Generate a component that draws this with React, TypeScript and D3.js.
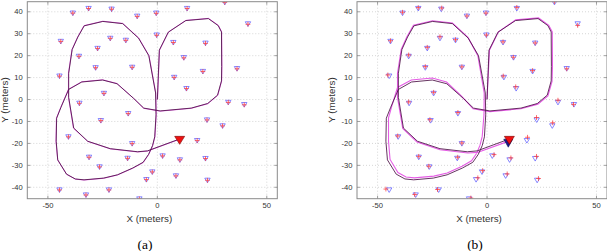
import React from "react";
import * as d3 from "d3";

type P = [number, number];

// True anchor (beacon) positions, metres
const anchors: P[] = [
  [-38.6, 39.3], [-31.4, 41.4], [-20.9, 41.1], [-9.2, 37.9], [-0.5, 39.3], [13.6, 41.4], [30.8, 44.2], [41.4, 34.4],
  [-44.1, 26.4], [-21.5, 27.8], [-14.4, 26.9], [-27.3, 23.2], [-0.3, 29.3], [7.3, 25.9], [22.0, 25.6], [-35.8, 19.6],
  [12.1, 19.0], [-28.2, 14.4], [-11.5, 14.6], [-44.7, 10.6], [7.7, 10.0], [20.8, 12.7], [36.4, 14.0], [13.3, 4.9],
  [-24.4, 2.7], [-35.6, -1.8], [32.4, -1.4], [39.7, -2.4], [-13.3, -6.5], [-25.8, -9.7], [22.7, -9.4], [29.8, -12.1],
  [-40.6, -17.1], [-11.5, -20.2], [18.2, -18.8], [-31.2, -26.4], [-13.6, -26.9], [2.4, -25.8], [10.3, -27.6], [22.0, -27.0],
  [-26.4, -30.8], [-2.3, -33.1], [8.5, -34.9], [-5.0, -36.6], [22.9, -36.9], [-44.7, -41.3], [-32.6, -43.6], [-22.1, -41.3],
  [-8.2, -45.4],
];

// Estimated anchor positions, panel (a)
const estAnchorsA: P[] = [
  [-38.6, 39.4], [-31.4, 41.5], [-20.9, 41.2], [-9.2, 37.9], [-0.5, 39.3], [13.6, 41.5], [30.8, 44.3], [41.4, 34.3],
  [-44.1, 26.5], [-21.5, 27.9], [-14.4, 27.0], [-27.3, 23.3], [-0.3, 29.3], [7.3, 26.0], [22.0, 25.6], [-35.8, 19.7],
  [12.1, 19.0], [-28.2, 14.5], [-11.5, 14.7], [-44.7, 10.7], [7.7, 10.1], [20.8, 12.8], [36.4, 14.0], [13.3, 5.0],
  [-24.4, 2.8], [-35.6, -1.7], [32.4, -1.3], [39.7, -2.4], [-13.3, -6.4], [-25.8, -9.6], [22.7, -9.3], [29.8, -12.0],
  [-40.6, -17.0], [-11.5, -20.1], [18.2, -18.7], [-31.2, -26.3], [-13.6, -26.8], [2.4, -25.7], [10.3, -27.5], [22.0, -26.9],
  [-26.4, -30.7], [-2.3, -33.0], [8.5, -34.8], [-5.0, -36.5], [22.9, -36.8], [-44.7, -41.2], [-32.6, -43.5], [-22.1, -41.2],
  [-8.2, -45.3],
];

// Estimated anchor positions, panel (b)
const estAnchorsB: P[] = [
  [-38.6, 39.8], [-31.4, 41.9], [-20.7, 41.7], [-9.2, 38.1], [-0.5, 39.4], [13.6, 42.0], [30.8, 44.6], [41.4, 33.8],
  [-44.1, 26.8], [-21.5, 28.6], [-14.4, 27.3], [-27.3, 23.8], [-0.3, 29.4], [7.3, 26.3], [22.0, 25.8], [-35.8, 20.3],
  [12.0, 19.3], [-28.2, 15.0], [-11.5, 14.9], [-45.3, 11.2], [7.4, 10.7], [20.8, 13.2], [36.4, 14.0], [13.1, 5.8],
  [-24.4, 3.3], [-35.8, -1.1], [32.4, -0.3], [39.5, -2.2], [-13.3, -5.9], [-26.1, -9.2], [22.6, -8.2], [30.0, -10.6],
  [-40.8, -16.6], [-11.5, -19.8], [18.5, -17.2], [-31.2, -25.9], [-13.4, -26.3], [3.2, -25.1], [10.9, -26.6], [22.6, -25.9],
  [-26.6, -30.4], [-2.0, -32.4], [9.2, -33.9], [-4.2, -35.7], [23.5, -36.0], [-46.2, -40.8], [-33.0, -43.3], [-22.6, -41.0],
  [-7.4, -44.9],
];

// True trajectory
const truePath: P[] = [
  [0, 0], [0.9, 22.5], [5, 30.7], [13, 36], [23.3, 36.9], [27.8, 33.7], [29.3, 30.8], [29.4, 15], [29.3, 8.5], [27.5, 2],
  [23, -1.8], [15.5, -3.9], [1.3, -5.2], [-6.2, -3.9], [-10.8, 0.5], [-12.5, 2], [-18.4, 7.2], [-25, 8.9], [-34.5, 8],
  [-40.5, 4.6], [-44, -3.5], [-46, -8.5], [-46.2, -19], [-45.5, -27.5], [-41.5, -34], [-37.5, -36.2], [-33.5, -36.6],
  [-24.5, -35.8], [-18.2, -34.3], [-11.2, -31.2], [-6.5, -28.6], [-4, -25], [-2.2, -21], [-1.2, -17], [-0.6, -7],
  [-0.8, 3], [-3.9, 20], [-8.6, 28], [-15.8, 34.6], [-24.9, 35.6], [-33.4, 33.6], [-36.3, 28.5], [-38.9, 22.8],
  [-40.5, 12], [-40.5, 1], [-38.2, -13], [-31.8, -19], [-21.5, -22.4], [-9, -23.8], [-4.5, -23.4], [9.3, -18.3],
];

// Estimated trajectory, panel (a)
const estPathA: P[] = [
  [0.1, 0], [1.0, 22.5], [5.1, 30.8], [13.1, 36.1], [23.4, 37.0], [27.9, 33.8], [29.4, 30.8], [29.5, 15], [29.4, 8.5], [27.6, 1.9],
  [23.1, -1.9], [15.5, -4.0], [1.3, -5.3], [-6.3, -4.0], [-10.9, 0.6], [-12.6, 2.1], [-18.4, 7.3], [-25, 9.0], [-34.5, 8.1],
  [-40.6, 4.7], [-44.1, -3.5], [-46.1, -8.5], [-46.3, -19], [-45.5, -27.6], [-41.4, -34.1], [-37.4, -36.3], [-33.4, -36.7],
  [-24.5, -35.9], [-18.2, -34.4], [-11.2, -31.3], [-6.4, -28.7], [-3.9, -25], [-2.1, -21], [-1.1, -17], [-0.5, -7],
  [-0.7, 3], [-3.8, 20], [-8.5, 28.1], [-15.8, 34.7], [-24.9, 35.7], [-33.5, 33.7], [-36.4, 28.5], [-39.0, 22.8],
  [-40.6, 12], [-40.6, 1], [-38.3, -13.1], [-31.8, -19.1], [-21.5, -22.5], [-9, -23.9], [-4.5, -23.5], [9.4, -18.4],
];

// Estimated trajectory, panel (b)
const estPathB: P[] = [
  [0, 0.2], [1.1, 22.5], [5.2, 30.9], [13.1, 36.3], [23.5, 37.2], [28.2, 33.8], [29.8, 30.8], [29.9, 15], [29.7, 8.3], [27.8, 1.7],
  [23.2, -2.1], [15.5, -4.2], [1.3, -5.5], [-6.4, -4.2], [-11, 0.9], [-12.7, 2.6], [-18.5, 8], [-25, 9.8], [-34.6, 8.9],
  [-40.9, 5.5], [-43.5, -3], [-45, -8.3], [-45, -19], [-44.3, -27.3], [-40.7, -33.3], [-37, -35.3], [-33.2, -35.7],
  [-24.3, -34.9], [-18.2, -33.5], [-11.4, -30.4], [-7.1, -27.9], [-4.8, -24.6], [-3.2, -20.8], [-2.2, -16.8], [-1.4, -7],
  [-1.3, 3], [-4.2, 20], [-8.7, 28.3], [-15.8, 34.9], [-24.9, 35.9], [-33.6, 33.9], [-36.6, 28.6], [-39.2, 22.8],
  [-40.9, 12], [-40.9, 1], [-38.5, -13.2], [-32, -19.4], [-21.5, -22.9], [-8.8, -24.4], [-4.4, -24.1], [9, -19.3],
];

const trueEnd: P = [10.2, -18.6];
const estEndB: P = [9.7, -19.9];

const xTicks = [-50, 0, 50];
const yTicks = [-40, -30, -20, -10, 0, 10, 20, 30, 40];
const captions = ["(a)", "(b)"];

const X_DOMAIN: [number, number] = [-59.4, 54.8];
const Y_DOMAIN: [number, number] = [-45.2, 44.6];
const TOP = 1.7;
const BOTTOM = 198.7;
const W = 250;

const SANS = "Liberation Sans, Arial, Helvetica, sans-serif";
const SERIF = "Times New Roman, Liberation Serif, DejaVu Serif, serif";

function Panel({ left, estAnchors, estPath, estEnd, caption, yLabelX, captionX, estWidth }: {
  left: number; estAnchors: P[]; estPath: P[]; estEnd: P | null; caption: string; yLabelX: number; captionX: number; estWidth: number;
}) {
  const x = d3.scaleLinear().domain(X_DOMAIN).range([left, left + W]);
  const y = d3.scaleLinear().domain(Y_DOMAIN).range([BOTTOM, TOP]);
  const line = d3.line<P>().x((d) => x(d[0])).y((d) => y(d[1]));
  const fmt = (v: number) => (v < 0 ? "-" + Math.abs(v) : String(v));
  const tri = (cx: number, cy: number, w: number, h: number) =>
    `M${cx - w / 2},${cy - h / 2}L${cx + w / 2},${cy - h / 2}L${cx},${cy + h / 2}Z`;
  const clipId = "clip" + caption.replace(/[()]/g, "");
  const sans = { fontFamily: SANS };
  return (
    <g>
      <defs>
        <clipPath id={clipId}>
          <rect x={left} y={TOP} width={W} height={BOTTOM - TOP} />
        </clipPath>
      </defs>
      {xTicks.map((t) => (
        <line key={"gx" + t} x1={x(t)} x2={x(t)} y1={TOP} y2={BOTTOM} stroke="#c4c4c4" strokeWidth={0.7} strokeDasharray="1,2" />
      ))}
      {yTicks.map((t) => (
        <line key={"gy" + t} x1={left} x2={left + W} y1={y(t)} y2={y(t)} stroke="#c4c4c4" strokeWidth={0.7} strokeDasharray="1,2" />
      ))}
      <g clipPath={`url(#${clipId})`}>
        {anchors.map((a, i) => (
          <path key={"a" + i} d={tri(x(a[0]), y(a[1]), 5.4, 4.6)} fill="none" stroke="#6060ff" strokeWidth={0.75} />
        ))}
        {estAnchors.map((a, i) => {
          const cx = x(a[0]);
          const cy = y(a[1]);
          return (
            <g key={"e" + i} stroke="#ff3a3a" strokeWidth={0.75}>
              <line x1={cx - 2.4} x2={cx + 2.4} y1={cy} y2={cy} />
              <line x1={cx} x2={cx} y1={cy - 2.4} y2={cy + 2.4} />
            </g>
          );
        })}
        <path d={line(estPath) || ""} fill="none" stroke="#e040e0" strokeWidth={estWidth} strokeOpacity={0.85} />
        <path d={line(truePath) || ""} fill="none" stroke="#4a0f45" strokeWidth={0.85} />
        {estEnd && (
          <path d={tri(x(estEnd[0]), y(estEnd[1]), 9, 8)} fill="#1a1a8c" stroke="#10105a" strokeWidth={0.6} />
        )}
        <path d={tri(x(trueEnd[0]), y(trueEnd[1]), 10, 8)} fill="#ee1111" stroke="#7a0000" strokeWidth={0.6} />
      </g>
      <rect x={left} y={TOP} width={W} height={BOTTOM - TOP} fill="none" stroke="#8a8a8a" strokeWidth={1} />
      {xTicks.map((t) => (
        <g key={"tx" + t} stroke="#8a8a8a" strokeWidth={0.8}>
          <line x1={x(t)} x2={x(t)} y1={BOTTOM} y2={BOTTOM - 3} />
          <line x1={x(t)} x2={x(t)} y1={TOP} y2={TOP + 3} />
        </g>
      ))}
      {yTicks.map((t) => (
        <g key={"ty" + t} stroke="#8a8a8a" strokeWidth={0.8}>
          <line x1={left} x2={left + 3} y1={y(t)} y2={y(t)} />
          <line x1={left + W} x2={left + W - 3} y1={y(t)} y2={y(t)} />
        </g>
      ))}
      {xTicks.map((t) => (
        <text key={"lx" + t} x={x(t)} y={207.8} textAnchor="middle" fontSize={7.6} fill="#333" style={sans}>
          {fmt(t)}
        </text>
      ))}
      {yTicks.map((t) => (
        <text key={"ly" + t} x={left - 4.5} y={y(t) + 2.7} textAnchor="end" fontSize={7.6} fill="#333" style={sans}>
          {fmt(t)}
        </text>
      ))}
      <text x={left + W / 2 - 3} y={221.5} textAnchor="middle" fontSize={9.8} fill="#333" style={sans}>
        X (meters)
      </text>
      <text
        transform={`translate(${yLabelX},${100}) rotate(-90)`}
        textAnchor="middle"
        dominantBaseline="central"
        fontSize={9.8}
        fill="#333"
        style={sans}
      >
        Y (meters)
      </text>
      <text x={captionX} y={248.5} textAnchor="middle" fontSize={13.5} fill="#000" style={{ fontFamily: SERIF }}>
        {caption}
      </text>
    </g>
  );
}

export default function App() {
  return (
    <svg
      width={607}
      height={251}
      viewBox="0 0 607 251"
      style={{ position: "fixed", left: 0, top: 0, background: "#fff" }}
    >
      <rect x={0} y={0} width={607} height={251} fill="#fff" />
      <Panel left={27.3} estAnchors={estAnchorsA} estPath={estPathA} estEnd={null} caption={captions[0]} yLabelX={4.5} captionX={145} estWidth={0.9} />
      <Panel left={357} estAnchors={estAnchorsB} estPath={estPathB} estEnd={estEndB} caption={captions[1]} yLabelX={331.5} captionX={475} estWidth={1.1} />
    </svg>
  );
}
